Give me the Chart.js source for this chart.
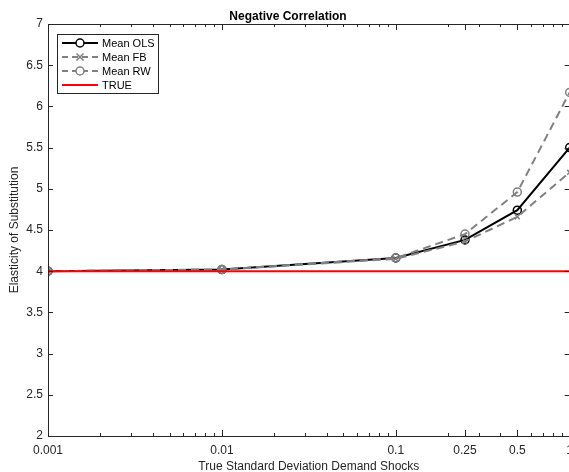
<!DOCTYPE html>
<html>
<head>
<meta charset="utf-8">
<script src="https://cdn.jsdelivr.net/npm/chart.js@4.4.1/dist/chart.umd.min.js"></script>
<style>
	html, body { margin: 0; padding: 0; background: #fff; }
	#wrap { width: 569px; height: 472px; overflow: hidden; }
</style>
</head>
<body>
<div id="wrap"><canvas id="chart" width="580" height="472"></canvas></div>
<script>
// values
const shocks    = [0.001, 0.01, 0.1, 0.25, 0.5, 1];
const meanOLS   = [4.00, 4.02, 4.16, 4.38, 4.74, 5.50];
const meanFB    = [4.00, 4.02, 4.15, 4.36, 4.66, 5.20];
const meanRW    = [4.00, 4.02, 4.16, 4.45, 4.96, 6.17];
const trueValue = [4, 4, 4, 4, 4, 4];

const xTickValues = [0.001, 0.01, 0.1, 0.25, 0.5, 1];
const xTickLabels = ['0.001', '0.01', '0.1', '0.25', '0.5', '1'];
const xMinorTicks = [2, 3, 4, 5, 6, 7, 8, 9].flatMap(m => [m * 0.001, m * 0.01, m * 0.1]);

const axisColor = '#262626';
const gray = '#808080';
const font = 'Liberation Sans, Arial, Helvetica, sans-serif';

const points = vals => vals.map((v, i) => ({ x: shocks[i], y: v }));

const series = [
	{ label: 'Mean OLS', data: points(meanOLS), borderColor: '#000', dash: [], marker: 'circle', radius: 4, order: 3 },
	{ label: 'Mean FB', data: points(meanFB), borderColor: gray, dash: [8, 5], marker: 'crossRot', radius: 3.5, order: 2 },
	{ label: 'Mean RW', data: points(meanRW), borderColor: gray, dash: [8, 5], marker: 'circle', radius: 4, order: 1 },
	{ label: 'TRUE', data: points(trueValue), borderColor: '#ff0000', dash: [], marker: false, radius: 0, order: 0 }
];

function drawMarker (ctx, style, x, y, r) {
	ctx.beginPath();
	if (style === 'circle') {
		ctx.arc(x, y, r, 0, Math.PI * 2);
	} else if (style === 'crossRot') {
		ctx.moveTo(x - r, y - r); ctx.lineTo(x + r, y + r);
		ctx.moveTo(x + r, y - r); ctx.lineTo(x - r, y + r);
	}
	ctx.stroke();
}

const boxAndTicks = {
	id: 'boxAndTicks',
	afterDraw (chart) {
		const { ctx, chartArea: a, scales: { x, y } } = chart;
		ctx.save();
		ctx.strokeStyle = axisColor;
		ctx.lineWidth = 1;
		ctx.setLineDash([]);
		ctx.strokeRect(a.left + 0.5, a.top + 0.5, a.right - a.left, a.bottom - a.top);

		ctx.beginPath();
		xMinorTicks.forEach(v => {
			const px = Math.round(x.getPixelForValue(v)) + 0.5;
			ctx.moveTo(px, a.bottom); ctx.lineTo(px, a.bottom - 3);
			ctx.moveTo(px, a.top); ctx.lineTo(px, a.top + 3);
		});
		xTickValues.forEach(v => {
			const px = Math.round(x.getPixelForValue(v)) + 0.5;
			ctx.moveTo(px, a.bottom); ctx.lineTo(px, a.bottom - 6);
			ctx.moveTo(px, a.top); ctx.lineTo(px, a.top + 6);
		});
		y.ticks.forEach(t => {
			const py = Math.round(y.getPixelForValue(t.value)) + 0.5;
			ctx.moveTo(a.left, py); ctx.lineTo(a.left + 5, py);
			ctx.moveTo(a.right, py); ctx.lineTo(a.right - 5, py);
		});
		ctx.stroke();

		// legend box
		const lx = 57, ly = 34, lw = 101, lh = 59;
		ctx.fillStyle = '#fff';
		ctx.fillRect(lx, ly, lw, lh);
		ctx.strokeStyle = axisColor;
		ctx.strokeRect(lx + 0.5, ly + 0.5, lw, lh);
		ctx.font = '11px ' + font;
		ctx.textBaseline = 'middle';
		series.forEach((s, i) => {
			const ey = 43 + i * 14;
			ctx.strokeStyle = s.borderColor;
			ctx.lineWidth = 2;
			ctx.setLineDash(s.dash.length ? [6, 4] : []);
			ctx.beginPath();
			ctx.moveTo(62, ey); ctx.lineTo(98, ey);
			ctx.stroke();
			ctx.setLineDash([]);
			if (s.marker) {
				ctx.lineWidth = 1.5;
				ctx.fillStyle = '#fff';
				if (s.marker === 'circle') {
					ctx.beginPath(); ctx.arc(80, ey, s.radius, 0, Math.PI * 2); ctx.fill();
				}
				drawMarker(ctx, s.marker, 80, ey, s.radius);
			}
			ctx.fillStyle = '#000';
			ctx.fillText(s.label, 102, ey + 0.5);
		});
		ctx.restore();
	}
};

const config = {
	type: 'line',
	data: {
		datasets: series.map(s => ({
			label: s.label,
			data: s.data,
			borderColor: s.borderColor,
			borderWidth: 2,
			borderDash: s.dash,
			pointStyle: s.marker,
			pointRadius: s.radius,
			pointBorderWidth: 1.5,
			pointBorderColor: s.borderColor,
			pointBackgroundColor: 'rgba(0,0,0,0)',
			tension: 0,
			order: s.order
		}))
	},
	options: {
		responsive: false,
		animation: false,
		layout: { padding: { left: 0, right: 4, top: 0, bottom: 0 } },
		plugins: {
			legend: { display: false },
			tooltip: { enabled: false },
			title: {
				display: true,
				text: 'Negative Correlation',
				color: '#000',
				font: { family: font, size: 12, weight: 'bold' },
				padding: { top: 9, bottom: 0.6 }
			}
		},
		scales: {
			x: {
				type: 'logarithmic',
				min: 0.001,
				max: 1,
				afterBuildTicks: scale => { scale.ticks = xTickValues.map(v => ({ value: v })); },
				afterFit: scale => { scale.height = 36; },
				grid: { display: false, drawTicks: false },
				border: { display: false },
				ticks: {
					autoSkip: false,
					maxRotation: 0,
					padding: 7,
					color: axisColor,
					font: { family: font, size: 12 },
					callback: v => xTickLabels[xTickValues.indexOf(v)]
				},
				title: {
					display: true,
					text: 'True Standard Deviation Demand Shocks',
					color: axisColor,
					font: { family: font, size: 12 },
					padding: { top: 0, bottom: -2 }
				}
			},
			y: {
				min: 2,
				max: 7,
				afterFit: scale => { scale.width = 48; },
				grid: { display: false, drawTicks: false },
				border: { display: false },
				ticks: {
					stepSize: 0.5,
					padding: 5,
					color: axisColor,
					font: { family: font, size: 12 },
					callback: v => v.toString()
				},
				title: {
					display: true,
					text: 'Elasticity of Substitution',
					color: axisColor,
					font: { family: font, size: 12 },
					padding: { top: 7, bottom: 0 }
				}
			}
		}
	},
	plugins: [boxAndTicks]
};

new Chart(document.getElementById('chart'), config);
</script>
</body>
</html>
